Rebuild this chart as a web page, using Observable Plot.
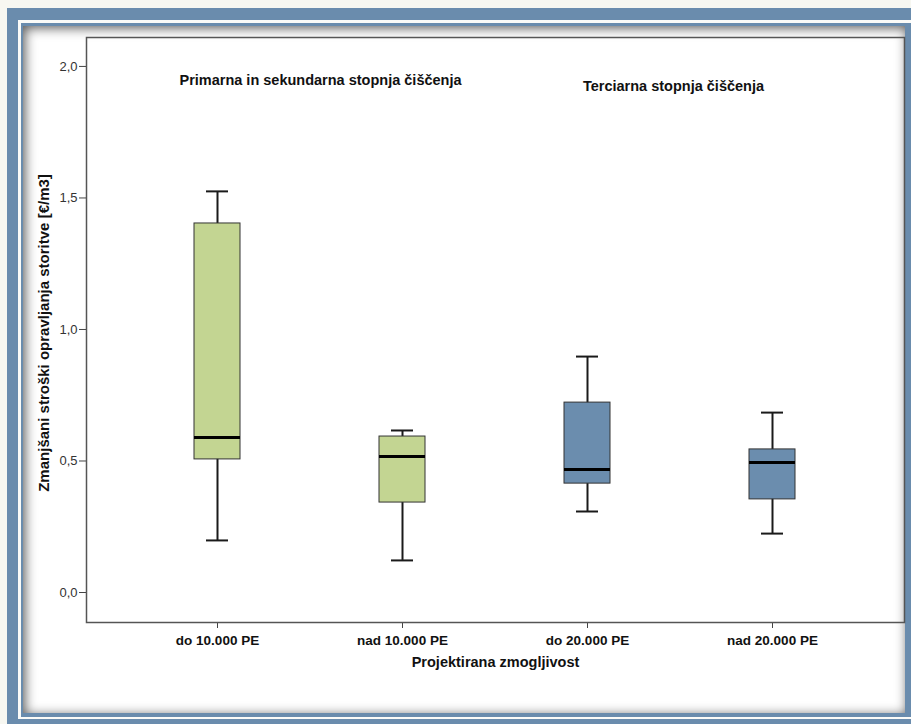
<!DOCTYPE html>
<html><head><meta charset="utf-8">
<script src="https://cdn.jsdelivr.net/npm/d3@7"></script>
<script src="https://cdn.jsdelivr.net/npm/@observablehq/plot@0.6"></script>
<style>
html,body{margin:0;padding:0;}
body{width:911px;height:724px;overflow:hidden;background:#f7f7f1;position:relative;}
.b1{position:absolute;left:7px;top:8px;width:904px;height:716px;background:#6a8cad;}
.b2{position:absolute;left:18px;top:20px;width:893px;height:699px;background:#fbfbf8;}
.b3{position:absolute;left:21px;top:23px;width:890px;height:694px;background:#6a8cad;}
.panel{position:absolute;left:23px;top:26px;width:882px;height:687px;background:#fff;box-shadow:inset 2px 2px 12px rgba(0,0,0,0.65);}
#chart{position:absolute;left:0;top:0;}
</style>
</head><body>
<div class="b1"></div><div class="b2"></div><div class="b3"></div><div class="panel"></div>
<div id="chart"></div>
<script>
const categories = ["do 10.000 PE", "nad 10.000 PE", "do 20.000 PE", "nad 20.000 PE"];
const groups = ["Primarna in sekundarna stopnja čiščenja", "Primarna in sekundarna stopnja čiščenja", "Terciarna stopnja čiščenja", "Terciarna stopnja čiščenja"];
const groupTitles = ["Primarna in sekundarna stopnja čiščenja", "Terciarna stopnja čiščenja"];
const whiskerLow = [0.198, 0.122, 0.308, 0.224];
const q1 = [0.506, 0.342, 0.414, 0.354];
const median = [0.589, 0.517, 0.468, 0.494];
const q3 = [1.403, 0.593, 0.722, 0.544];
const whiskerHigh = [1.525, 0.616, 0.897, 0.684];
const yTicks = [0, 0.5, 1.0, 1.5, 2.0];
const yLabel = "Zmanjšani stroški opravljanja storitve [€/m3]";
const xLabel = "Projektirana zmogljivost";

const rows = categories.map((c, i) => ({
  cat: c, grp: groups[i], lo: whiskerLow[i], q1: q1[i], med: median[i], q3: q3[i], hi: whiskerHigh[i]
}));

const font = "'Liberation Sans', Arial, sans-serif";
const chart = Plot.plot({
  width: 911, height: 690,
  marginLeft: 86, marginRight: 7, marginTop: 37, marginBottom: 68,
  style: {background: "transparent", fontFamily: font, fontSize: "13px", color: "#222"},
  x: {domain: categories, paddingInner: 0.75, paddingOuter: 0.585, axis: null},
  y: {domain: [-0.114, 2.11], axis: null},
  color: {domain: groupTitles, range: ["#c3d592", "#6b8dae"]},
  marks: [
    Plot.axisY({ticks: yTicks, tickFormat: d => d.toFixed(1).replace(".", ","), tickSize: 7, tickPadding: 2,
      stroke: "#444", fill: "#333", fontSize: 13, label: null}),
    Plot.axisX({tickSize: 6, tickPadding: 7, stroke: "#444", fill: "#111", fontSize: 13.5, fontWeight: "bold", label: null}),
    Plot.frame({stroke: "#555", strokeWidth: 1.5}),
    Plot.ruleX(rows, {x: "cat", y1: "lo", y2: "hi", stroke: "#1a1a1a", strokeWidth: 2}),
    Plot.barY(rows, {x: "cat", y1: "q1", y2: "q3", fill: "grp", stroke: "#333", strokeWidth: 1}),
    Plot.tickY(rows, {x: "cat", y: "med", stroke: "#000", strokeWidth: 3}),
    Plot.tickY(rows, {x: "cat", y: "lo", stroke: "#1a1a1a", strokeWidth: 2, insetLeft: 12, insetRight: 12}),
    Plot.tickY(rows, {x: "cat", y: "hi", stroke: "#1a1a1a", strokeWidth: 2, insetLeft: 12, insetRight: 12}),
    Plot.text([groupTitles[0]], {x: () => categories[0], text: d => d, frameAnchor: "top", lineAnchor: "middle", dy: 43, dx: 103,
      fontWeight: "bold", fontSize: 14.5, fill: "#111"}),
    Plot.text([groupTitles[1]], {x: () => categories[2], text: d => d, frameAnchor: "top", lineAnchor: "middle", dy: 49, dx: 86,
      fontWeight: "bold", fontSize: 14.5, fill: "#111"}),
    Plot.text([yLabel], {text: d => d, frameAnchor: "left", rotate: -90, dx: -42, dy: 3, lineAnchor: "middle", textAnchor: "middle",
      fontWeight: "bold", fontSize: 15, fill: "#111"}),
    Plot.text([xLabel], {text: d => d, frameAnchor: "bottom", lineAnchor: "middle", dy: 40,
      fontWeight: "bold", fontSize: 14.5, fill: "#111"})
  ]
});
document.getElementById("chart").appendChild(chart);
</script>
</body></html>
